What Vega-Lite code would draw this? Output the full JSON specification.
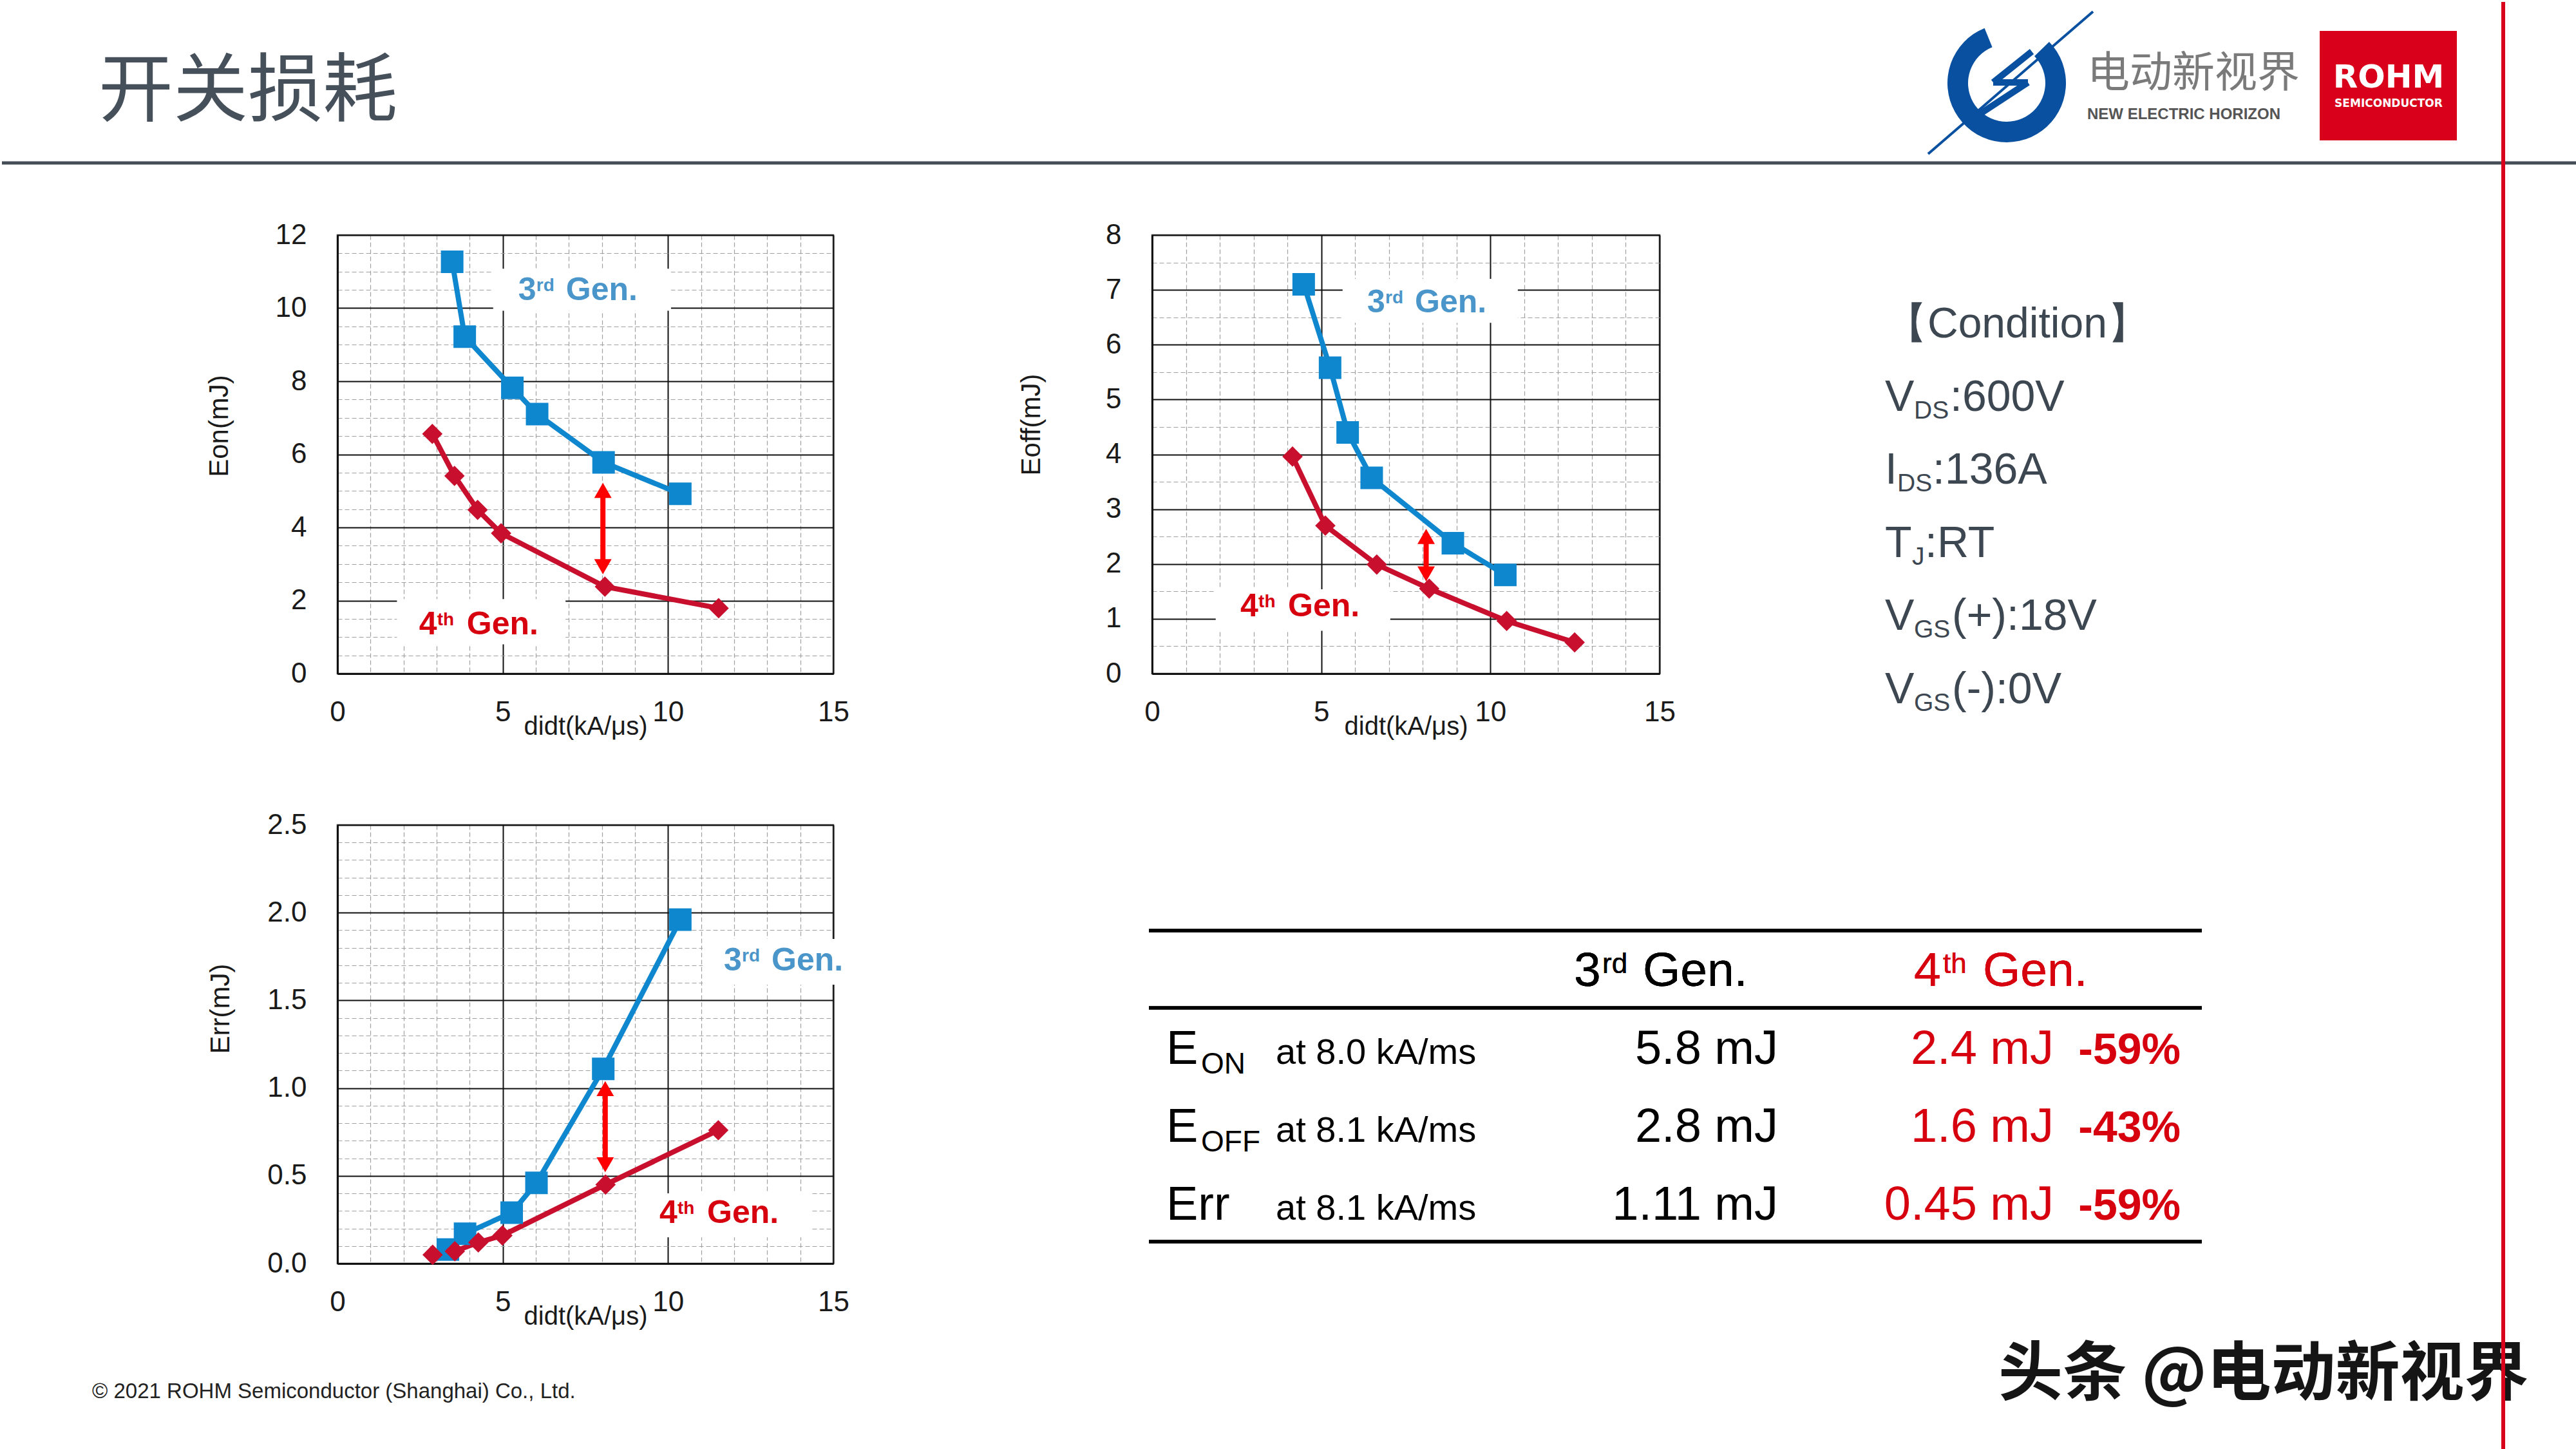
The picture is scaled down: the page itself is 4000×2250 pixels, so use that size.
{
"$schema": "https://vega.github.io/schema/vega-lite/v6.json",
"padding": 0,
"background": "white",
"config": {"view": {"stroke": null}, "font": "Liberation Sans"},
"datasets": {
"series": [
{"chart":"Eon","gen":"3rd","didt":3.47,"E":11.27},{"chart":"Eon","gen":"3rd","didt":3.85,"E":9.22},{"chart":"Eon","gen":"3rd","didt":5.29,"E":7.82},{"chart":"Eon","gen":"3rd","didt":6.04,"E":7.10},{"chart":"Eon","gen":"3rd","didt":8.05,"E":5.78},{"chart":"Eon","gen":"3rd","didt":10.37,"E":4.92},
{"chart":"Eon","gen":"4th","didt":2.87,"E":6.56},{"chart":"Eon","gen":"4th","didt":3.54,"E":5.41},{"chart":"Eon","gen":"4th","didt":4.24,"E":4.48},{"chart":"Eon","gen":"4th","didt":4.95,"E":3.84},{"chart":"Eon","gen":"4th","didt":8.09,"E":2.38},{"chart":"Eon","gen":"4th","didt":11.53,"E":1.79},
{"chart":"Eoff","gen":"3rd","didt":4.48,"E":7.10},{"chart":"Eoff","gen":"3rd","didt":5.26,"E":5.58},{"chart":"Eoff","gen":"3rd","didt":5.78,"E":4.40},{"chart":"Eoff","gen":"3rd","didt":6.49,"E":3.57},{"chart":"Eoff","gen":"3rd","didt":8.89,"E":2.38},{"chart":"Eoff","gen":"3rd","didt":10.44,"E":1.80},
{"chart":"Eoff","gen":"4th","didt":4.15,"E":3.96},{"chart":"Eoff","gen":"4th","didt":5.12,"E":2.70},{"chart":"Eoff","gen":"4th","didt":6.64,"E":1.99},{"chart":"Eoff","gen":"4th","didt":8.19,"E":1.55},{"chart":"Eoff","gen":"4th","didt":10.48,"E":0.96},{"chart":"Eoff","gen":"4th","didt":12.49,"E":0.57},
{"chart":"Err","gen":"3rd","didt":3.34,"E":0.08},{"chart":"Err","gen":"3rd","didt":3.86,"E":0.17},{"chart":"Err","gen":"3rd","didt":5.27,"E":0.29},{"chart":"Err","gen":"3rd","didt":6.02,"E":0.46},{"chart":"Err","gen":"3rd","didt":8.04,"E":1.11},{"chart":"Err","gen":"3rd","didt":10.37,"E":1.96},
{"chart":"Err","gen":"4th","didt":2.88,"E":0.05},{"chart":"Err","gen":"4th","didt":3.55,"E":0.07},{"chart":"Err","gen":"4th","didt":4.26,"E":0.12},{"chart":"Err","gen":"4th","didt":4.99,"E":0.16},{"chart":"Err","gen":"4th","didt":8.11,"E":0.45},{"chart":"Err","gen":"4th","didt":11.52,"E":0.76}
],
"labels": [
{"chart":"Eon","gen":"3rd","num":"3","sup":"rd","tx":5.47,"ty":10.22,"bx1":4.71,"bx2":10.09,"by1":9.93,"by2":11.08},
{"chart":"Eon","gen":"4th","num":"4","sup":"th","tx":2.47,"ty":1.07,"bx1":1.8,"bx2":6.9,"by1":0.8,"by2":2.04},
{"chart":"Eoff","gen":"3rd","num":"3","sup":"rd","tx":6.36,"ty":6.59,"bx1":5.63,"bx2":10.81,"by1":6.4,"by2":7.2},
{"chart":"Eoff","gen":"4th","num":"4","sup":"th","tx":2.61,"ty":1.05,"bx1":1.88,"bx2":7.04,"by1":0.78,"by2":1.54},
{"chart":"Err","gen":"3rd","num":"3","sup":"rd","tx":11.69,"ty":1.67,"bx1":11.05,"bx2":15.27,"by1":1.59,"by2":1.85},
{"chart":"Err","gen":"4th","num":"4","sup":"th","tx":9.74,"ty":0.23,"bx1":9.04,"bx2":14.34,"by1":0.15,"by2":0.4}
],
"arrows": [
{"chart":"Eon","didt":8.03,"lo":2.72,"hi":5.22},
{"chart":"Eoff","didt":8.1,"lo":1.68,"hi":2.64},
{"chart":"Err","didt":8.1,"lo":0.52,"hi":1.04}
],
"table": [
{"r":1,"label":"E","sub":"ON","at":"at 8.0 kA/ms","v3":"5.8 mJ","v4":"2.4 mJ","pct":"-59%"},
{"r":2,"label":"E","sub":"OFF","at":"at 8.1 kA/ms","v3":"2.8 mJ","v4":"1.6 mJ","pct":"-43%"},
{"r":3,"label":"Err","sub":"","at":"at 8.1 kA/ms","v3":"1.11 mJ","v4":"0.45 mJ","pct":"-59%"}
]
},
"columns": 6,
"spacing": {"row": 235, "column": 0},
"align": "each",
"bounds": "flush",
"concat": [
{
"width": 521, "height": 127,
"data": {"values": [{}]},
"layer": [
{"mark": {"type": "text", "text": "开关损耗", "font": "Noto Sans CJK SC", "fontSize": 116, "color": "#46505a", "align": "left", "baseline": "middle"},
 "encoding": {"x": {"datum": 150, "type": "quantitative", "scale": {"domain": [0, 521], "nice": false, "zero": false}, "axis": null},
              "y": {"datum": 141, "type": "quantitative", "scale": {"domain": [0, 127], "nice": false, "zero": false, "reverse": true}, "axis": null}}},
{"mark": {"type": "rule", "color": "#444d56", "strokeWidth": 5},
 "encoding": {"x": {"datum": 0, "type": "quantitative", "axis": null}, "x2": {"datum": 4000}, "y": {"datum": 250, "type": "quantitative", "axis": null}}},
{"mark": {"type": "arc", "color": "#0a50a0", "radius": 92, "radius2": 60, "theta": 0.8, "theta2": 5.9},
 "encoding": {"x": {"datum": 3113, "type": "quantitative", "axis": null}, "y": {"datum": 126, "type": "quantitative", "axis": null}}},
{"mark": {"type": "rule", "color": "#0a50a0", "strokeWidth": 10},
 "encoding": {"x": {"datum": 3152, "type": "quantitative", "axis": null}, "x2": {"datum": 3092}, "y": {"datum": 77, "type": "quantitative", "axis": null}, "y2": {"datum": 125}}},
{"mark": {"type": "rule", "color": "#0a50a0", "strokeWidth": 10},
 "encoding": {"x": {"datum": 3092, "type": "quantitative", "axis": null}, "x2": {"datum": 3146}, "y": {"datum": 125, "type": "quantitative", "axis": null}, "y2": {"datum": 125}}},
{"mark": {"type": "rule", "color": "#0a50a0", "strokeWidth": 10},
 "encoding": {"x": {"datum": 3146, "type": "quantitative", "axis": null}, "x2": {"datum": 3062}, "y": {"datum": 125, "type": "quantitative", "axis": null}, "y2": {"datum": 180}}},
{"mark": {"type": "rule", "color": "#0a50a0", "strokeWidth": 4},
 "encoding": {"x": {"datum": 3247, "type": "quantitative", "axis": null}, "x2": {"datum": 2991}, "y": {"datum": 15, "type": "quantitative", "axis": null}, "y2": {"datum": 236}}},
{"mark": {"type": "rect", "color": "#d9001b"},
 "encoding": {"x": {"datum": 3599, "type": "quantitative", "axis": null}, "x2": {"datum": 3812}, "y": {"datum": 45, "type": "quantitative", "axis": null}, "y2": {"datum": 215}}},
{"mark": {"type": "text", "text": "ROHM", "font": "DejaVu Sans", "fontWeight": "bold", "fontSize": 50, "color": "white", "align": "center", "baseline": "middle"},
 "encoding": {"x": {"datum": 3706, "type": "quantitative", "axis": null}, "y": {"datum": 118, "type": "quantitative", "axis": null}}},
{"mark": {"type": "text", "text": "SEMICONDUCTOR", "font": "DejaVu Sans", "fontWeight": "bold", "fontSize": 17, "color": "white", "align": "center", "baseline": "middle"},
 "encoding": {"x": {"datum": 3706, "type": "quantitative", "axis": null}, "y": {"datum": 158, "type": "quantitative", "axis": null}}},
{"mark": {"type": "text", "text": "电动新视界", "font": "Noto Sans CJK SC", "fontSize": 66, "color": "#7a7a7a", "align": "left", "baseline": "middle"},
 "encoding": {"x": {"datum": 3238, "type": "quantitative", "axis": null}, "y": {"datum": 112, "type": "quantitative", "axis": null}}},
{"mark": {"type": "text", "text": "NEW ELECTRIC HORIZON", "fontWeight": "bold", "fontSize": 24, "color": "#555555", "align": "left", "baseline": "middle"},
 "encoding": {"x": {"datum": 3238, "type": "quantitative", "axis": null}, "y": {"datum": 175, "type": "quantitative", "axis": null}}},
{"mark": {"type": "text", "text": "© 2021  ROHM Semiconductor (Shanghai) Co., Ltd.", "fontSize": 33, "color": "#222222", "align": "left", "baseline": "middle"},
 "encoding": {"x": {"datum": 140, "type": "quantitative", "axis": null}, "y": {"datum": 2158, "type": "quantitative", "axis": null}}},
{"mark": {"type": "text", "text": "头条 @电动新视界", "font": "Noto Sans CJK SC", "fontWeight": "bold", "fontSize": 100, "color": "#151515", "align": "left", "baseline": "middle"},
 "encoding": {"x": {"datum": 3100, "type": "quantitative", "axis": null}, "y": {"datum": 2133, "type": "quantitative", "axis": null}}},
{"mark": {"type": "rule", "color": "#d9001b", "strokeWidth": 6},
 "encoding": {"x": {"datum": 3884, "type": "quantitative", "axis": null}, "y": {"datum": 0, "type": "quantitative", "axis": null}, "y2": {"datum": 2250}}}
]
},
{"width": 1, "height": 1, "data": {"values": [{}]}, "mark": {"type": "point", "opacity": 0}},
{"width": 1, "height": 1, "data": {"values": [{}]}, "mark": {"type": "point", "opacity": 0}},
{"width": 1, "height": 1, "data": {"values": [{}]}, "mark": {"type": "point", "opacity": 0}},
{"width": 1, "height": 1, "data": {"values": [{}]}, "mark": {"type": "point", "opacity": 0}},
{"width": 1, "height": 1, "data": {"values": [{}]}, "mark": {"type": "point", "opacity": 0}},

{"width": 521, "height": 681, "data": {"values": [{}]}, "mark": {"type": "point", "opacity": 0}},
{
"width": 770, "height": 681,
"view": {"stroke": "#4a4a4a", "strokeWidth": 2.5},
"resolve": {"scale": {"color": "independent"}},
"layer": [
{"data": {"name": "series"}, "transform": [{"filter": "datum.chart === 'Eon'"}],
 "mark": {"type": "line", "strokeWidth": 8},
 "encoding": {
  "x": {"field": "didt", "type": "quantitative", "scale": {"domain": [0, 15], "nice": false, "zero": false},
   "axis": {"title": "didt(kA/μs)", "values": [0,1,2,3,4,5,6,7,8,9,10,11,12,13,14,15], "tickCount": 100,
    "labelExpr": "datum.value % 5 === 0 ? format(datum.value, 'd') : ''",
    "labelFontSize": 44, "labelColor": "#1a1a1a", "labelPadding": 38, "labelOverlap": false, "labelFlush": false,
    "ticks": false, "tickSize": 0, "domainColor": "#111111", "domainWidth": 3, "grid": true,
    "gridColor": {"condition": {"test": "datum.value % 5 === 0", "value": "#111111"}, "value": "#a0a0a0"},
    "gridDash": {"condition": {"test": "datum.value % 5 === 0", "value": []}, "value": [7, 4]},
    "gridWidth": {"condition": {"test": "datum.value % 5 === 0", "value": 2}, "value": 1.2},
    "titleFontSize": 40, "titleFontWeight": "normal", "titleColor": "#1a1a1a", "titleY": 94, "titleBaseline": "alphabetic"}},
  "y": {"field": "E", "type": "quantitative", "scale": {"domain": [0, 12], "nice": false, "zero": false},
   "axis": {"title": "Eon(mJ)", "values": [0,0.5,1,1.5,2,2.5,3,3.5,4,4.5,5,5.5,6,6.5,7,7.5,8,8.5,9,9.5,10,10.5,11,11.5,12], "tickCount": 100,
    "labelExpr": "datum.value % 2 === 0 ? format(datum.value, 'd') : ''",
    "labelFontSize": 44, "labelColor": "#1a1a1a", "labelPadding": 48, "labelOverlap": false, "labelFlush": false,
    "ticks": false, "tickSize": 0, "domainColor": "#111111", "domainWidth": 3, "grid": true,
    "gridColor": {"condition": {"test": "datum.value % 2 === 0", "value": "#111111"}, "value": "#a0a0a0"},
    "gridDash": {"condition": {"test": "datum.value % 2 === 0", "value": []}, "value": [7, 4]},
    "gridWidth": {"condition": {"test": "datum.value % 2 === 0", "value": 2}, "value": 1.2},
    "titleFontSize": 42, "titleFontWeight": "normal", "titleColor": "#1a1a1a", "titleAngle": 270, "titleAlign": "center", "titleBaseline": "middle", "titleX": -184, "titleY": 296}},
  "color": {"field": "gen", "type": "nominal", "scale": {"domain": ["3rd", "4th"], "range": ["#0f87cf", "#c8102e"]}, "legend": null}
 }},
{"data": {"name": "labels"}, "transform": [{"filter": "datum.chart === 'Eon'"}], "mark": {"type": "rect", "color": "white"},
 "encoding": {"x": {"field": "bx1", "type": "quantitative"}, "x2": {"field": "bx2"}, "y": {"field": "by1", "type": "quantitative"}, "y2": {"field": "by2"}}},
{"data": {"name": "series"}, "transform": [{"filter": "datum.chart === 'Eon' && datum.gen === '3rd'"}],
 "mark": {"type": "point", "shape": "square", "filled": true, "size": 1225, "color": "#0f87cf", "opacity": 1},
 "encoding": {"x": {"field": "didt", "type": "quantitative"}, "y": {"field": "E", "type": "quantitative"}}},
{"data": {"name": "series"}, "transform": [{"filter": "datum.chart === 'Eon' && datum.gen === '4th'"}],
 "mark": {"type": "point", "shape": "diamond", "filled": true, "size": 1000, "color": "#c8102e", "opacity": 1},
 "encoding": {"x": {"field": "didt", "type": "quantitative"}, "y": {"field": "E", "type": "quantitative"}}},
{"data": {"name": "arrows"}, "transform": [{"filter": "datum.chart === 'Eon'"}],
 "mark": {"type": "rule", "color": "#ff0000", "strokeWidth": 8, "yOffset": 16, "y2Offset": -16},
 "encoding": {"x": {"field": "didt", "type": "quantitative"}, "y": {"field": "hi", "type": "quantitative"}, "y2": {"field": "lo"}}},
{"data": {"name": "arrows"}, "transform": [{"filter": "datum.chart === 'Eon'"}],
 "mark": {"type": "point", "shape": "triangle-up", "filled": true, "size": 729, "color": "#ff0000", "opacity": 1, "yOffset": 11.7},
 "encoding": {"x": {"field": "didt", "type": "quantitative"}, "y": {"field": "hi", "type": "quantitative"}}},
{"data": {"name": "arrows"}, "transform": [{"filter": "datum.chart === 'Eon'"}],
 "mark": {"type": "point", "shape": "triangle-down", "filled": true, "size": 729, "color": "#ff0000", "opacity": 1, "yOffset": -11.7},
 "encoding": {"x": {"field": "didt", "type": "quantitative"}, "y": {"field": "lo", "type": "quantitative"}}},
{"data": {"name": "labels"}, "transform": [{"filter": "datum.chart === 'Eon'"}],
 "mark": {"type": "text", "align": "left", "baseline": "alphabetic", "fontSize": 50, "fontWeight": "bold"},
 "encoding": {"x": {"field": "tx", "type": "quantitative"}, "y": {"field": "ty", "type": "quantitative"}, "text": {"field": "num"},
  "color": {"field": "gen", "type": "nominal", "scale": {"domain": ["3rd", "4th"], "range": ["#4a95c9", "#d7000f"]}, "legend": null}}},
{"data": {"name": "labels"}, "transform": [{"filter": "datum.chart === 'Eon'"}],
 "mark": {"type": "text", "align": "left", "baseline": "alphabetic", "fontSize": 28, "fontWeight": "bold", "dx": 28, "dy": -14},
 "encoding": {"x": {"field": "tx", "type": "quantitative"}, "y": {"field": "ty", "type": "quantitative"}, "text": {"field": "sup"},
  "color": {"field": "gen", "type": "nominal", "scale": {"domain": ["3rd", "4th"], "range": ["#4a95c9", "#d7000f"]}, "legend": null}}},
{"data": {"name": "labels"}, "transform": [{"filter": "datum.chart === 'Eon'"}],
 "mark": {"type": "text", "align": "left", "baseline": "alphabetic", "fontSize": 50, "fontWeight": "bold", "dx": 74},
 "encoding": {"x": {"field": "tx", "type": "quantitative"}, "y": {"field": "ty", "type": "quantitative"}, "text": {"value": "Gen."},
  "color": {"field": "gen", "type": "nominal", "scale": {"domain": ["3rd", "4th"], "range": ["#4a95c9", "#d7000f"]}, "legend": null}}}
]
},
{"width": 495, "height": 681, "data": {"values": [{}]}, "mark": {"type": "point", "opacity": 0}},
{
"width": 788, "height": 681,
"view": {"stroke": "#4a4a4a", "strokeWidth": 2.5},
"resolve": {"scale": {"color": "independent"}},
"layer": [
{"data": {"name": "series"}, "transform": [{"filter": "datum.chart === 'Eoff'"}],
 "mark": {"type": "line", "strokeWidth": 8},
 "encoding": {
  "x": {"field": "didt", "type": "quantitative", "scale": {"domain": [0, 15], "nice": false, "zero": false},
   "axis": {"title": "didt(kA/μs)", "values": [0,1,2,3,4,5,6,7,8,9,10,11,12,13,14,15], "tickCount": 100,
    "labelExpr": "datum.value % 5 === 0 ? format(datum.value, 'd') : ''",
    "labelFontSize": 44, "labelColor": "#1a1a1a", "labelPadding": 38, "labelOverlap": false, "labelFlush": false,
    "ticks": false, "tickSize": 0, "domainColor": "#111111", "domainWidth": 3, "grid": true,
    "gridColor": {"condition": {"test": "datum.value % 5 === 0", "value": "#111111"}, "value": "#a0a0a0"},
    "gridDash": {"condition": {"test": "datum.value % 5 === 0", "value": []}, "value": [7, 4]},
    "gridWidth": {"condition": {"test": "datum.value % 5 === 0", "value": 2}, "value": 1.2},
    "titleFontSize": 40, "titleFontWeight": "normal", "titleColor": "#1a1a1a", "titleY": 94, "titleBaseline": "alphabetic"}},
  "y": {"field": "E", "type": "quantitative", "scale": {"domain": [0, 8], "nice": false, "zero": false},
   "axis": {"title": "Eoff(mJ)", "values": [0,0.5,1,1.5,2,2.5,3,3.5,4,4.5,5,5.5,6,6.5,7,7.5,8], "tickCount": 100,
    "labelExpr": "datum.value % 1 === 0 ? format(datum.value, 'd') : ''",
    "labelFontSize": 44, "labelColor": "#1a1a1a", "labelPadding": 48, "labelOverlap": false, "labelFlush": false,
    "ticks": false, "tickSize": 0, "domainColor": "#111111", "domainWidth": 3, "grid": true,
    "gridColor": {"condition": {"test": "datum.value % 1 === 0", "value": "#111111"}, "value": "#a0a0a0"},
    "gridDash": {"condition": {"test": "datum.value % 1 === 0", "value": []}, "value": [7, 4]},
    "gridWidth": {"condition": {"test": "datum.value % 1 === 0", "value": 2}, "value": 1.2},
    "titleFontSize": 42, "titleFontWeight": "normal", "titleColor": "#1a1a1a", "titleAngle": 270, "titleAlign": "center", "titleBaseline": "middle", "titleX": -188, "titleY": 294}},
  "color": {"field": "gen", "type": "nominal", "scale": {"domain": ["3rd", "4th"], "range": ["#0f87cf", "#c8102e"]}, "legend": null}
 }},
{"data": {"name": "labels"}, "transform": [{"filter": "datum.chart === 'Eoff'"}], "mark": {"type": "rect", "color": "white"},
 "encoding": {"x": {"field": "bx1", "type": "quantitative"}, "x2": {"field": "bx2"}, "y": {"field": "by1", "type": "quantitative"}, "y2": {"field": "by2"}}},
{"data": {"name": "series"}, "transform": [{"filter": "datum.chart === 'Eoff' && datum.gen === '3rd'"}],
 "mark": {"type": "point", "shape": "square", "filled": true, "size": 1225, "color": "#0f87cf", "opacity": 1},
 "encoding": {"x": {"field": "didt", "type": "quantitative"}, "y": {"field": "E", "type": "quantitative"}}},
{"data": {"name": "series"}, "transform": [{"filter": "datum.chart === 'Eoff' && datum.gen === '4th'"}],
 "mark": {"type": "point", "shape": "diamond", "filled": true, "size": 1000, "color": "#c8102e", "opacity": 1},
 "encoding": {"x": {"field": "didt", "type": "quantitative"}, "y": {"field": "E", "type": "quantitative"}}},
{"data": {"name": "arrows"}, "transform": [{"filter": "datum.chart === 'Eoff'"}],
 "mark": {"type": "rule", "color": "#ff0000", "strokeWidth": 8, "yOffset": 16, "y2Offset": -16},
 "encoding": {"x": {"field": "didt", "type": "quantitative"}, "y": {"field": "hi", "type": "quantitative"}, "y2": {"field": "lo"}}},
{"data": {"name": "arrows"}, "transform": [{"filter": "datum.chart === 'Eoff'"}],
 "mark": {"type": "point", "shape": "triangle-up", "filled": true, "size": 729, "color": "#ff0000", "opacity": 1, "yOffset": 11.7},
 "encoding": {"x": {"field": "didt", "type": "quantitative"}, "y": {"field": "hi", "type": "quantitative"}}},
{"data": {"name": "arrows"}, "transform": [{"filter": "datum.chart === 'Eoff'"}],
 "mark": {"type": "point", "shape": "triangle-down", "filled": true, "size": 729, "color": "#ff0000", "opacity": 1, "yOffset": -11.7},
 "encoding": {"x": {"field": "didt", "type": "quantitative"}, "y": {"field": "lo", "type": "quantitative"}}},
{"data": {"name": "labels"}, "transform": [{"filter": "datum.chart === 'Eoff'"}],
 "mark": {"type": "text", "align": "left", "baseline": "alphabetic", "fontSize": 50, "fontWeight": "bold"},
 "encoding": {"x": {"field": "tx", "type": "quantitative"}, "y": {"field": "ty", "type": "quantitative"}, "text": {"field": "num"},
  "color": {"field": "gen", "type": "nominal", "scale": {"domain": ["3rd", "4th"], "range": ["#4a95c9", "#d7000f"]}, "legend": null}}},
{"data": {"name": "labels"}, "transform": [{"filter": "datum.chart === 'Eoff'"}],
 "mark": {"type": "text", "align": "left", "baseline": "alphabetic", "fontSize": 28, "fontWeight": "bold", "dx": 28, "dy": -14},
 "encoding": {"x": {"field": "tx", "type": "quantitative"}, "y": {"field": "ty", "type": "quantitative"}, "text": {"field": "sup"},
  "color": {"field": "gen", "type": "nominal", "scale": {"domain": ["3rd", "4th"], "range": ["#4a95c9", "#d7000f"]}, "legend": null}}},
{"data": {"name": "labels"}, "transform": [{"filter": "datum.chart === 'Eoff'"}],
 "mark": {"type": "text", "align": "left", "baseline": "alphabetic", "fontSize": 50, "fontWeight": "bold", "dx": 74},
 "encoding": {"x": {"field": "tx", "type": "quantitative"}, "y": {"field": "ty", "type": "quantitative"}, "text": {"value": "Gen."},
  "color": {"field": "gen", "type": "nominal", "scale": {"domain": ["3rd", "4th"], "range": ["#4a95c9", "#d7000f"]}, "legend": null}}}
]
},
{"width": 346, "height": 681, "data": {"values": [{}]}, "mark": {"type": "point", "opacity": 0}},
{
"width": 600, "height": 681,
"data": {"values": [{}]},
"layer": [
{"mark": {"type": "text", "text": "【Condition】", "fontSize": 66, "color": "#3d4751", "align": "left", "baseline": "alphabetic"},
 "encoding": {"x": {"datum": 4, "type": "quantitative", "scale": {"domain": [0, 600], "nice": false, "zero": false}, "axis": null},
              "y": {"datum": 0, "type": "quantitative", "scale": {"domain": [-1.399, 4.596], "nice": false, "zero": false, "reverse": true}, "axis": null}}},
{"mark": {"type": "text", "text": "V", "fontSize": 68, "color": "#3d4751", "align": "left", "baseline": "alphabetic"},
 "encoding": {"x": {"datum": 4, "type": "quantitative", "axis": null}, "y": {"datum": 1, "type": "quantitative", "axis": null}}},
{"mark": {"type": "text", "text": "DS", "fontSize": 39, "color": "#3d4751", "align": "left", "baseline": "alphabetic", "dx": 45, "dy": 12},
 "encoding": {"x": {"datum": 4, "type": "quantitative", "axis": null}, "y": {"datum": 1, "type": "quantitative", "axis": null}}},
{"mark": {"type": "text", "text": ":600V", "fontSize": 68, "color": "#3d4751", "align": "left", "baseline": "alphabetic", "dx": 101},
 "encoding": {"x": {"datum": 4, "type": "quantitative", "axis": null}, "y": {"datum": 1, "type": "quantitative", "axis": null}}},
{"mark": {"type": "text", "text": "I", "fontSize": 68, "color": "#3d4751", "align": "left", "baseline": "alphabetic"},
 "encoding": {"x": {"datum": 4, "type": "quantitative", "axis": null}, "y": {"datum": 2, "type": "quantitative", "axis": null}}},
{"mark": {"type": "text", "text": "DS", "fontSize": 39, "color": "#3d4751", "align": "left", "baseline": "alphabetic", "dx": 19, "dy": 12},
 "encoding": {"x": {"datum": 4, "type": "quantitative", "axis": null}, "y": {"datum": 2, "type": "quantitative", "axis": null}}},
{"mark": {"type": "text", "text": ":136A", "fontSize": 68, "color": "#3d4751", "align": "left", "baseline": "alphabetic", "dx": 74},
 "encoding": {"x": {"datum": 4, "type": "quantitative", "axis": null}, "y": {"datum": 2, "type": "quantitative", "axis": null}}},
{"mark": {"type": "text", "text": "T", "fontSize": 68, "color": "#3d4751", "align": "left", "baseline": "alphabetic"},
 "encoding": {"x": {"datum": 4, "type": "quantitative", "axis": null}, "y": {"datum": 3, "type": "quantitative", "axis": null}}},
{"mark": {"type": "text", "text": "J", "fontSize": 39, "color": "#3d4751", "align": "left", "baseline": "alphabetic", "dx": 42, "dy": 12},
 "encoding": {"x": {"datum": 4, "type": "quantitative", "axis": null}, "y": {"datum": 3, "type": "quantitative", "axis": null}}},
{"mark": {"type": "text", "text": ":RT", "fontSize": 68, "color": "#3d4751", "align": "left", "baseline": "alphabetic", "dx": 62},
 "encoding": {"x": {"datum": 4, "type": "quantitative", "axis": null}, "y": {"datum": 3, "type": "quantitative", "axis": null}}},
{"mark": {"type": "text", "text": "V", "fontSize": 68, "color": "#3d4751", "align": "left", "baseline": "alphabetic"},
 "encoding": {"x": {"datum": 4, "type": "quantitative", "axis": null}, "y": {"datum": 4, "type": "quantitative", "axis": null}}},
{"mark": {"type": "text", "text": "GS", "fontSize": 39, "color": "#3d4751", "align": "left", "baseline": "alphabetic", "dx": 45, "dy": 12},
 "encoding": {"x": {"datum": 4, "type": "quantitative", "axis": null}, "y": {"datum": 4, "type": "quantitative", "axis": null}}},
{"mark": {"type": "text", "text": "(+):18V", "fontSize": 68, "color": "#3d4751", "align": "left", "baseline": "alphabetic", "dx": 104},
 "encoding": {"x": {"datum": 4, "type": "quantitative", "axis": null}, "y": {"datum": 4, "type": "quantitative", "axis": null}}},
{"mark": {"type": "text", "text": "V", "fontSize": 68, "color": "#3d4751", "align": "left", "baseline": "alphabetic"},
 "encoding": {"x": {"datum": 4, "type": "quantitative", "axis": null}, "y": {"datum": 5, "type": "quantitative", "axis": null}}},
{"mark": {"type": "text", "text": "GS", "fontSize": 39, "color": "#3d4751", "align": "left", "baseline": "alphabetic", "dx": 45, "dy": 12},
 "encoding": {"x": {"datum": 4, "type": "quantitative", "axis": null}, "y": {"datum": 5, "type": "quantitative", "axis": null}}},
{"mark": {"type": "text", "text": "(-):0V", "fontSize": 68, "color": "#3d4751", "align": "left", "baseline": "alphabetic", "dx": 104},
 "encoding": {"x": {"datum": 4, "type": "quantitative", "axis": null}, "y": {"datum": 5, "type": "quantitative", "axis": null}}}
]
},

{"width": 521, "height": 681, "data": {"values": [{}]}, "mark": {"type": "point", "opacity": 0}},
{
"width": 770, "height": 681,
"view": {"stroke": "#4a4a4a", "strokeWidth": 2.5},
"resolve": {"scale": {"color": "independent"}},
"layer": [
{"data": {"name": "series"}, "transform": [{"filter": "datum.chart === 'Err'"}],
 "mark": {"type": "line", "strokeWidth": 8},
 "encoding": {
  "x": {"field": "didt", "type": "quantitative", "scale": {"domain": [0, 15], "nice": false, "zero": false},
   "axis": {"title": "didt(kA/μs)", "values": [0,1,2,3,4,5,6,7,8,9,10,11,12,13,14,15], "tickCount": 100,
    "labelExpr": "datum.value % 5 === 0 ? format(datum.value, 'd') : ''",
    "labelFontSize": 44, "labelColor": "#1a1a1a", "labelPadding": 38, "labelOverlap": false, "labelFlush": false,
    "ticks": false, "tickSize": 0, "domainColor": "#111111", "domainWidth": 3, "grid": true,
    "gridColor": {"condition": {"test": "datum.value % 5 === 0", "value": "#111111"}, "value": "#a0a0a0"},
    "gridDash": {"condition": {"test": "datum.value % 5 === 0", "value": []}, "value": [7, 4]},
    "gridWidth": {"condition": {"test": "datum.value % 5 === 0", "value": 2}, "value": 1.2},
    "titleFontSize": 40, "titleFontWeight": "normal", "titleColor": "#1a1a1a", "titleY": 94, "titleBaseline": "alphabetic"}},
  "y": {"field": "E", "type": "quantitative", "scale": {"domain": [0, 2.5], "nice": false, "zero": false},
   "axis": {"title": "Err(mJ)", "values": [0,0.1,0.2,0.3,0.4,0.5,0.6,0.7,0.8,0.9,1,1.1,1.2,1.3,1.4,1.5,1.6,1.7,1.8,1.9,2,2.1,2.2,2.3,2.4,2.5], "tickCount": 100,
    "labelExpr": "(datum.value * 10 + 0.001) % 5 < 0.01 ? format(datum.value, '.1f') : ''",
    "labelFontSize": 44, "labelColor": "#1a1a1a", "labelPadding": 48, "labelOverlap": false, "labelFlush": false,
    "ticks": false, "tickSize": 0, "domainColor": "#111111", "domainWidth": 3, "grid": true,
    "gridColor": {"condition": {"test": "(datum.value * 10 + 0.001) % 5 < 0.01", "value": "#111111"}, "value": "#a0a0a0"},
    "gridDash": {"condition": {"test": "(datum.value * 10 + 0.001) % 5 < 0.01", "value": []}, "value": [7, 4]},
    "gridWidth": {"condition": {"test": "(datum.value * 10 + 0.001) % 5 < 0.01", "value": 2}, "value": 1.2},
    "titleFontSize": 42, "titleFontWeight": "normal", "titleColor": "#1a1a1a", "titleAngle": 270, "titleAlign": "center", "titleBaseline": "middle", "titleX": -182, "titleY": 285}},
  "color": {"field": "gen", "type": "nominal", "scale": {"domain": ["3rd", "4th"], "range": ["#0f87cf", "#c8102e"]}, "legend": null}
 }},
{"data": {"name": "labels"}, "transform": [{"filter": "datum.chart === 'Err'"}], "mark": {"type": "rect", "color": "white"},
 "encoding": {"x": {"field": "bx1", "type": "quantitative"}, "x2": {"field": "bx2"}, "y": {"field": "by1", "type": "quantitative"}, "y2": {"field": "by2"}}},
{"data": {"name": "series"}, "transform": [{"filter": "datum.chart === 'Err' && datum.gen === '3rd'"}],
 "mark": {"type": "point", "shape": "square", "filled": true, "size": 1225, "color": "#0f87cf", "opacity": 1},
 "encoding": {"x": {"field": "didt", "type": "quantitative"}, "y": {"field": "E", "type": "quantitative"}}},
{"data": {"name": "series"}, "transform": [{"filter": "datum.chart === 'Err' && datum.gen === '4th'"}],
 "mark": {"type": "point", "shape": "diamond", "filled": true, "size": 1000, "color": "#c8102e", "opacity": 1},
 "encoding": {"x": {"field": "didt", "type": "quantitative"}, "y": {"field": "E", "type": "quantitative"}}},
{"data": {"name": "arrows"}, "transform": [{"filter": "datum.chart === 'Err'"}],
 "mark": {"type": "rule", "color": "#ff0000", "strokeWidth": 8, "yOffset": 16, "y2Offset": -16},
 "encoding": {"x": {"field": "didt", "type": "quantitative"}, "y": {"field": "hi", "type": "quantitative"}, "y2": {"field": "lo"}}},
{"data": {"name": "arrows"}, "transform": [{"filter": "datum.chart === 'Err'"}],
 "mark": {"type": "point", "shape": "triangle-up", "filled": true, "size": 729, "color": "#ff0000", "opacity": 1, "yOffset": 11.7},
 "encoding": {"x": {"field": "didt", "type": "quantitative"}, "y": {"field": "hi", "type": "quantitative"}}},
{"data": {"name": "arrows"}, "transform": [{"filter": "datum.chart === 'Err'"}],
 "mark": {"type": "point", "shape": "triangle-down", "filled": true, "size": 729, "color": "#ff0000", "opacity": 1, "yOffset": -11.7},
 "encoding": {"x": {"field": "didt", "type": "quantitative"}, "y": {"field": "lo", "type": "quantitative"}}},
{"data": {"name": "labels"}, "transform": [{"filter": "datum.chart === 'Err'"}],
 "mark": {"type": "text", "align": "left", "baseline": "alphabetic", "fontSize": 50, "fontWeight": "bold"},
 "encoding": {"x": {"field": "tx", "type": "quantitative"}, "y": {"field": "ty", "type": "quantitative"}, "text": {"field": "num"},
  "color": {"field": "gen", "type": "nominal", "scale": {"domain": ["3rd", "4th"], "range": ["#4a95c9", "#d7000f"]}, "legend": null}}},
{"data": {"name": "labels"}, "transform": [{"filter": "datum.chart === 'Err'"}],
 "mark": {"type": "text", "align": "left", "baseline": "alphabetic", "fontSize": 28, "fontWeight": "bold", "dx": 28, "dy": -14},
 "encoding": {"x": {"field": "tx", "type": "quantitative"}, "y": {"field": "ty", "type": "quantitative"}, "text": {"field": "sup"},
  "color": {"field": "gen", "type": "nominal", "scale": {"domain": ["3rd", "4th"], "range": ["#4a95c9", "#d7000f"]}, "legend": null}}},
{"data": {"name": "labels"}, "transform": [{"filter": "datum.chart === 'Err'"}],
 "mark": {"type": "text", "align": "left", "baseline": "alphabetic", "fontSize": 50, "fontWeight": "bold", "dx": 74},
 "encoding": {"x": {"field": "tx", "type": "quantitative"}, "y": {"field": "ty", "type": "quantitative"}, "text": {"value": "Gen."},
  "color": {"field": "gen", "type": "nominal", "scale": {"domain": ["3rd", "4th"], "range": ["#4a95c9", "#d7000f"]}, "legend": null}}}
]
},
{"width": 495, "height": 681, "data": {"values": [{}]}, "mark": {"type": "point", "opacity": 0}},
{
"width": 788, "height": 681,
"data": {"name": "table"},
"layer": [
{"mark": {"type": "rule", "color": "#000000", "strokeWidth": 5},
 "encoding": {"x": {"datum": -5, "type": "quantitative", "scale": {"domain": [0, 788], "nice": false, "zero": false}, "axis": null}, "x2": {"datum": 1630},
              "y": {"datum": -0.711, "type": "quantitative", "scale": {"domain": [-2.066, 3.562], "nice": false, "zero": false, "reverse": true}, "axis": null}}},
{"mark": {"type": "rule", "color": "#000000", "strokeWidth": 5},
 "encoding": {"x": {"datum": -5, "type": "quantitative", "axis": null}, "x2": {"datum": 1630}, "y": {"datum": 0.281, "type": "quantitative", "axis": null}}},
{"mark": {"type": "rule", "color": "#000000", "strokeWidth": 5},
 "encoding": {"x": {"datum": -5, "type": "quantitative", "axis": null}, "x2": {"datum": 1630}, "y": {"datum": 3.281, "type": "quantitative", "axis": null}}},
{"mark": {"type": "text", "text": "3", "fontSize": 75, "color": "#000000", "align": "left", "baseline": "alphabetic"},
 "encoding": {"x": {"datum": 655, "type": "quantitative", "axis": null}, "y": {"datum": 0, "type": "quantitative", "axis": null}}},
{"mark": {"type": "text", "text": "rd", "fontSize": 44, "color": "#000000", "align": "left", "baseline": "alphabetic", "dx": 44, "dy": -20},
 "encoding": {"x": {"datum": 655, "type": "quantitative", "axis": null}, "y": {"datum": 0, "type": "quantitative", "axis": null}}},
{"mark": {"type": "text", "text": "Gen.", "fontSize": 75, "color": "#000000", "align": "left", "baseline": "alphabetic", "dx": 107},
 "encoding": {"x": {"datum": 655, "type": "quantitative", "axis": null}, "y": {"datum": 0, "type": "quantitative", "axis": null}}},
{"mark": {"type": "text", "text": "4", "fontSize": 75, "color": "#d7000f", "align": "left", "baseline": "alphabetic"},
 "encoding": {"x": {"datum": 1183, "type": "quantitative", "axis": null}, "y": {"datum": 0, "type": "quantitative", "axis": null}}},
{"mark": {"type": "text", "text": "th", "fontSize": 44, "color": "#d7000f", "align": "left", "baseline": "alphabetic", "dx": 45, "dy": -20},
 "encoding": {"x": {"datum": 1183, "type": "quantitative", "axis": null}, "y": {"datum": 0, "type": "quantitative", "axis": null}}},
{"mark": {"type": "text", "text": "Gen.", "fontSize": 75, "color": "#d7000f", "align": "left", "baseline": "alphabetic", "dx": 107},
 "encoding": {"x": {"datum": 1183, "type": "quantitative", "axis": null}, "y": {"datum": 0, "type": "quantitative", "axis": null}}},
{"mark": {"type": "text", "fontSize": 74, "color": "#000000", "align": "left", "baseline": "alphabetic"},
 "encoding": {"x": {"datum": 22, "type": "quantitative", "axis": null}, "y": {"field": "r", "type": "quantitative", "axis": null}, "text": {"field": "label"}}},
{"mark": {"type": "text", "fontSize": 46, "color": "#000000", "align": "left", "baseline": "alphabetic", "dx": 54, "dy": 15},
 "encoding": {"x": {"datum": 22, "type": "quantitative", "axis": null}, "y": {"field": "r", "type": "quantitative", "axis": null}, "text": {"field": "sub"}}},
{"mark": {"type": "text", "fontSize": 56, "color": "#000000", "align": "left", "baseline": "alphabetic"},
 "encoding": {"x": {"datum": 192, "type": "quantitative", "axis": null}, "y": {"field": "r", "type": "quantitative", "axis": null}, "text": {"field": "at"}}},
{"mark": {"type": "text", "fontSize": 74, "color": "#000000", "align": "right", "baseline": "alphabetic"},
 "encoding": {"x": {"datum": 972, "type": "quantitative", "axis": null}, "y": {"field": "r", "type": "quantitative", "axis": null}, "text": {"field": "v3"}}},
{"mark": {"type": "text", "fontSize": 74, "color": "#d7000f", "align": "right", "baseline": "alphabetic"},
 "encoding": {"x": {"datum": 1400, "type": "quantitative", "axis": null}, "y": {"field": "r", "type": "quantitative", "axis": null}, "text": {"field": "v4"}}},
{"mark": {"type": "text", "fontSize": 68, "fontWeight": "bold", "color": "#d7000f", "align": "right", "baseline": "alphabetic"},
 "encoding": {"x": {"datum": 1597, "type": "quantitative", "axis": null}, "y": {"field": "r", "type": "quantitative", "axis": null}, "text": {"field": "pct"}}}
]
},
{"width": 1, "height": 1, "data": {"values": [{}]}, "mark": {"type": "point", "opacity": 0}},
{"width": 1, "height": 1, "data": {"values": [{}]}, "mark": {"type": "point", "opacity": 0}}
]
}
